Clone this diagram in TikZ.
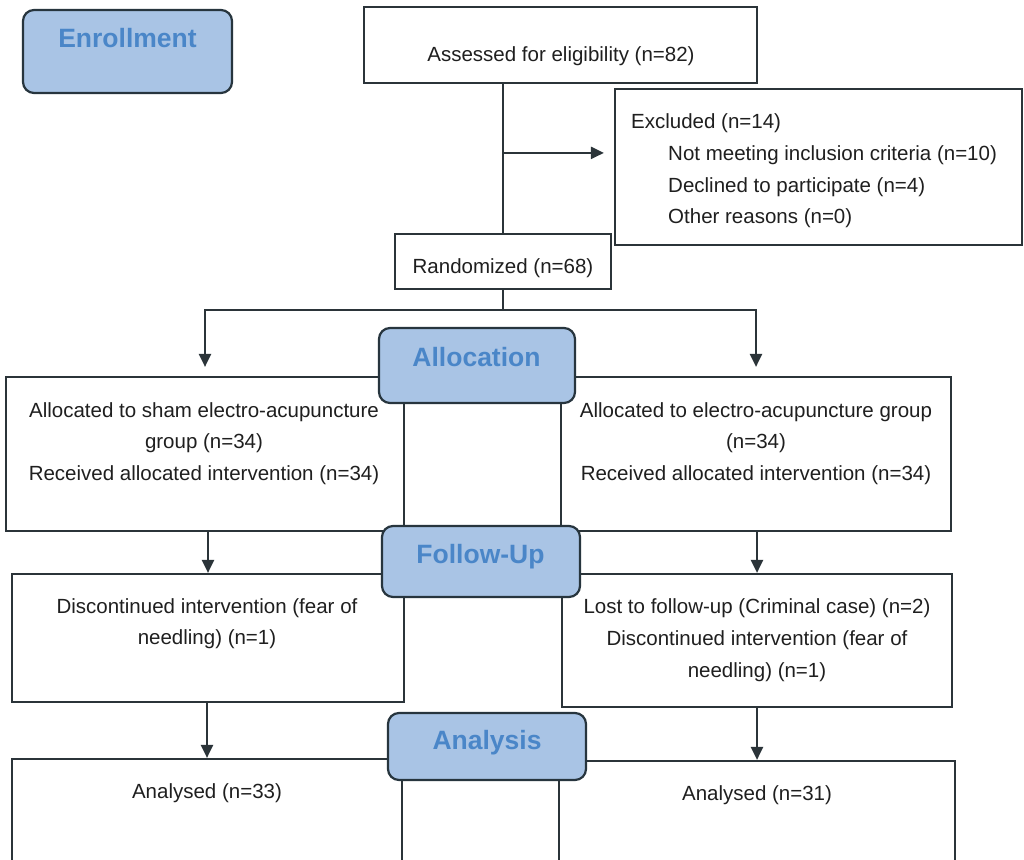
\documentclass[tikz,border=0pt]{standalone}
\usepackage{fontspec}
\setmainfont{Liberation Sans}
\usetikzlibrary{arrows.meta,calc}
\definecolor{boxline}{HTML}{2B3439}
\definecolor{headfill}{HTML}{A9C4E5}
\definecolor{headline}{HTML}{27353E}
\definecolor{headtext}{HTML}{4A86C8}
\newcommand{\bodyfont}{\fontsize{20.5}{24}\selectfont}
\newcommand{\headfont}{\fontsize{26.5}{30}\selectfont\bfseries}
\tikzset{
  box/.style={draw=boxline, line width=2.2pt, fill=white, inner sep=0pt},
  head/.style={draw=headline, fill=headfill, line width=2.2pt, rounded corners=11pt, inner sep=0pt},
  txt/.style={font=\bodyfont, text=black!88, anchor=base, inner sep=0pt},
  htxt/.style={font=\headfont, text=headtext, anchor=base, inner sep=0pt},
  link/.style={line width=2.2pt, draw=boxline},
  arr/.style={line width=2.2pt, draw=boxline, -{Triangle[length=13pt,width=12pt]}}
}
\begin{document}
\begin{tikzpicture}[x=1pt,y=-1pt]
\fill[white] (0,0) rectangle (1024,859);
\clip (0,0) rectangle (1024,859);
\useasboundingbox (0,0) rectangle (1024,859);
% boxes
\node[box, minimum width=393, minimum height=76] (assess) at (560.5,45) {};
\node[box, minimum width=407, minimum height=156] (excl) at (818.5,167) {};
\node[box, minimum width=216, minimum height=55] (rand) at (503,261.5) {};
\node[box, minimum width=398, minimum height=154] (allocL) at (205,454) {};
\node[box, minimum width=390, minimum height=154] (allocR) at (756,454) {};
\node[box, minimum width=392, minimum height=128] (fuL) at (208,638) {};
\node[box, minimum width=390, minimum height=133] (fuR) at (757,640.5) {};
\node[box, minimum width=390, minimum height=121] (anL) at (207,819.5) {};
\node[box, minimum width=396, minimum height=119] (anR) at (757,820.5) {};
% headers
\node[head, minimum width=209, minimum height=83] (enroll) at (127.5,51.5) {};
\node[head, minimum width=196, minimum height=75] (alloc) at (477,365.5) {};
\node[head, minimum width=198, minimum height=71] (fu) at (481,561.5) {};
\node[head, minimum width=198, minimum height=67] (an) at (487,746.5) {};
\node[htxt] (tEnroll) at (127.5,48) {Enrollment};
\node[htxt] (tAlloc) at (476.5,366) {Allocation};
\node[htxt] (tFu) at (480.5,563) {Follow-Up};
\node[htxt] (tAn) at (487,749) {Analysis};
% texts
\node[txt] (tAssess) at (561,61) {Assessed for eligibility (n=82)};
\node[txt, anchor=base west] (tEx1) at (631,128) {Excluded (n=14)};
\node[txt, anchor=base west] (tEx2) at (668,160) {Not meeting inclusion criteria (n=10)};
\node[txt, anchor=base west] (tEx3) at (668,192) {Declined to participate (n=4)};
\node[txt, anchor=base west] (tEx4) at (668,223) {Other reasons (n=0)};
\node[txt] (tRand) at (503,273) {Randomized (n=68)};
\node[txt] (tAL1) at (204,417) {Allocated to sham electro-acupuncture};
\node[txt] (tAL2) at (204,448) {group (n=34)};
\node[txt] (tAL3) at (204,480) {Received allocated intervention (n=34)};
\node[txt] (tAR1) at (756,417) {Allocated to electro-acupuncture group};
\node[txt] (tAR2) at (756,448) {(n=34)};
\node[txt] (tAR3) at (756,480) {Received allocated intervention (n=34)};
\node[txt] (tFL1) at (207,613) {Discontinued intervention (fear of};
\node[txt] (tFL2) at (207,644) {needling) (n=1)};
\node[txt] (tFR1) at (757,613) {Lost to follow-up (Criminal case) (n=2)};
\node[txt] (tFR2) at (757,645) {Discontinued intervention (fear of};
\node[txt] (tFR3) at (757,677) {needling) (n=1)};
\node[txt] (tNL) at (207,798) {Analysed (n=33)};
\node[txt] (tNR) at (757,800) {Analysed (n=31)};
% connectors
\path (rand.north) ++(0,-80) coordinate (br);
\path (rand.south) ++(0,20) coordinate (sp);
\draw[link] (rand.north |- assess.south) -- (rand.north);
\draw[arr, shorten >=10pt] (br) -- (br -| excl.west);
\draw[link] (rand.south) -- (sp);
\draw[arr, shorten >=9pt] (sp) -| (allocL.north);
\draw[arr, shorten >=9pt] (sp) -| (allocR.north);
\draw[arr] (allocL.south -| fuL.north) -- (fuL.north);
\draw[arr] (allocR.south -| fuR.north) -- (fuR.north);
\draw[arr] (fuL.south -| anL.north) -- (anL.north);
\draw[arr] (fuR.south -| anR.north) -- (anR.north);
\end{tikzpicture}
\end{document}
